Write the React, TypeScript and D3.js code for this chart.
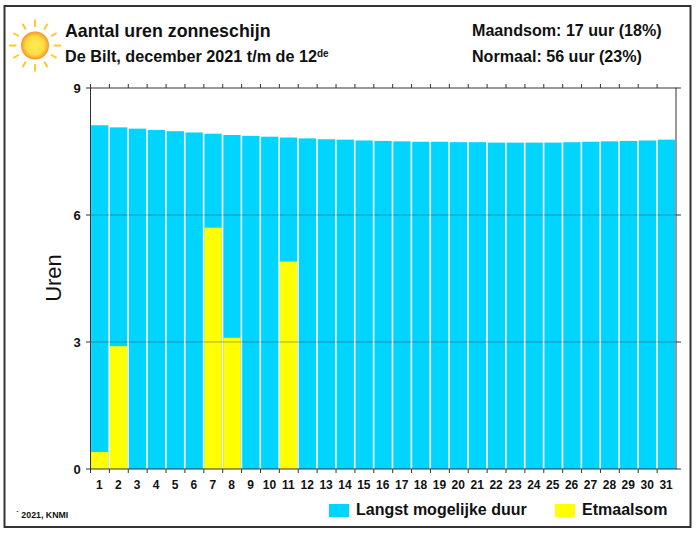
import * as d3 from 'd3'
import { useEffect, useRef } from 'react'

const days = d3.range(1, 32).map(String)
const maxDuration = [
  8.12, 8.07, 8.04, 8.01, 7.98, 7.95, 7.92, 7.89, 7.87, 7.85, 7.83, 7.81, 7.79, 7.78, 7.76, 7.75,
  7.74, 7.73, 7.73, 7.72, 7.72, 7.71, 7.71, 7.71, 7.71, 7.72, 7.73, 7.74, 7.75, 7.76, 7.78,
]
const sunshine = [0.4, 2.9, 0, 0, 0, 0, 5.7, 3.1, 0, 0, 4.9]
const yTicks = [0, 3, 6, 9]
const sunRays = d3.range(0, 360, 30)

const FONT = '"Liberation Sans", Arial, sans-serif'
const BLUE = '#00d5ff'
const YELLOW = '#ffff00'
const AXIS = '#333'

const App = () => {
  const ref = useRef<SVGSVGElement>(null)

  useEffect(() => {
    const svg = d3.select(ref.current)
    svg.selectAll('*').remove()

    const x = d3.scaleBand<string>().domain(days).range([90.5, 676])
    const y = d3.scaleLinear().domain([0, 9]).range([469, 88])

    svg
      .append('rect')
      .attr('x', 4.5)
      .attr('y', 6)
      .attr('width', 686)
      .attr('height', 521)
      .attr('fill', '#fff')
      .attr('stroke', '#333')
      .attr('stroke-width', 2)

    // sun
    const grad = svg
      .append('defs')
      .append('radialGradient')
      .attr('id', 'sun')
    grad.append('stop').attr('offset', '0%').attr('stop-color', '#ffec50')
    grad.append('stop').attr('offset', '65%').attr('stop-color', '#ffdc45')
    grad.append('stop').attr('offset', '100%').attr('stop-color', '#fb9420')

    const sun = svg.append('g').attr('transform', 'translate(35,45.5)')
    sun
      .selectAll('line')
      .data(sunRays)
      .join('line')
      .attr('transform', (d) => `rotate(${d})`)
      .attr('x1', 18.5)
      .attr('x2', (d) => (d % 90 === 0 ? 26 : 25))
      .attr('stroke', '#ffc928')
      .attr('stroke-width', 2)
    sun.append('circle').attr('r', 14).attr('fill', 'url(#sun)')

    // bars
    svg
      .append('g')
      .selectAll('rect')
      .data(maxDuration)
      .join('rect')
      .attr('x', (_, i) => x(days[i])! + 0.6)
      .attr('width', x.bandwidth() - 1.6)
      .attr('y', (d) => y(d))
      .attr('height', (d) => y(0) - y(d))
      .attr('fill', BLUE)

    svg
      .append('g')
      .selectAll('rect')
      .data(sunshine)
      .join('rect')
      .attr('x', (_, i) => x(days[i])! + 0.6)
      .attr('width', x.bandwidth() - 1.6)
      .attr('y', (d) => y(d))
      .attr('height', (d) => y(0) - y(d))
      .attr('fill', YELLOW)

    // gridlines run over the bars
    svg
      .append('g')
      .selectAll('line')
      .data(yTicks.slice(1, 3))
      .join('line')
      .attr('x1', 90.5)
      .attr('x2', 676)
      .attr('y1', (d) => y(d))
      .attr('y2', (d) => y(d))
      .attr('stroke', '#333')
      .attr('stroke-opacity', 0.4)
      .attr('stroke-width', 1)

    // frame of the plot
    svg
      .append('rect')
      .attr('x', 90.5)
      .attr('y', 88)
      .attr('width', 585.5)
      .attr('height', 381)
      .attr('fill', 'none')
      .attr('stroke', AXIS)
      .attr('stroke-width', 1)

    const tickX = days.map((d) => x(d)!)
    svg
      .append('g')
      .selectAll('line')
      .data(tickX)
      .join('line')
      .attr('x1', (d) => d)
      .attr('x2', (d) => d)
      .attr('y1', 84)
      .attr('y2', 88)
      .attr('stroke', AXIS)
    svg
      .append('g')
      .selectAll('line')
      .data(tickX)
      .join('line')
      .attr('x1', (d) => d)
      .attr('x2', (d) => d)
      .attr('y1', 469)
      .attr('y2', 473)
      .attr('stroke', AXIS)

    // y ticks stick out on both sides
    svg
      .append('g')
      .selectAll('line')
      .data(yTicks)
      .join('line')
      .attr('x1', 86)
      .attr('x2', 90.5)
      .attr('y1', (d) => y(d))
      .attr('y2', (d) => y(d))
      .attr('stroke', AXIS)
    svg
      .append('g')
      .selectAll('line')
      .data(yTicks)
      .join('line')
      .attr('x1', 676)
      .attr('x2', 681)
      .attr('y1', (d) => y(d))
      .attr('y2', (d) => y(d))
      .attr('stroke', AXIS)

    const text = (
      tx: number,
      ty: number,
      s: string,
      size: number,
      weight = 'bold',
      anchor = 'start'
    ) =>
      svg
        .append('text')
        .attr('x', tx)
        .attr('y', ty)
        .attr('font-family', FONT)
        .attr('font-size', size)
        .attr('font-weight', weight)
        .attr('text-anchor', anchor)
        .attr('fill', '#111')
        .text(s)

    yTicks.forEach((d) => text(77, y(d) + 4.5, String(d), 13, 'bold', 'middle'))
    days.forEach((d) => text(x(d)! + x.bandwidth() / 2 - 0.5, 488.5, d, 12, 'bold', 'middle'))

    text(65, 37, 'Aantal uren zonneschijn', 17.8)
    const sub = text(65, 62, 'De Bilt, december 2021 t/m de 12', 16.2)
    sub.append('tspan').attr('font-size', 10).attr('dy', -5.5).text('de')
    text(472, 36, 'Maandsom: 17 uur (18%)', 16.1)
    text(472, 62, 'Normaal: 56 uur (23%)', 16.1)

    text(0, 0, 'Uren', 22, 'normal', 'middle').attr('transform', 'translate(61,278) rotate(-90)')
    text(16, 518, '\u02d9 2021, KNMI', 8.8)

    svg
      .append('rect')
      .attr('x', 329)
      .attr('y', 504)
      .attr('width', 20)
      .attr('height', 13)
      .attr('fill', BLUE)
    text(356, 515, 'Langst mogelijke duur', 16)
    svg
      .append('rect')
      .attr('x', 555)
      .attr('y', 504)
      .attr('width', 20)
      .attr('height', 13)
      .attr('fill', YELLOW)
    text(582, 515, 'Etmaalsom', 16)
  }, [])

  return <svg ref={ref} width={700} height={534} style={{ position: 'absolute', left: 0, top: 0 }} />
}

export default App
